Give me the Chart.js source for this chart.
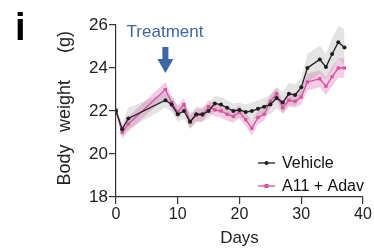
<!DOCTYPE html>
<html>
<head>
<meta charset="utf-8">
<script src="https://cdn.jsdelivr.net/npm/chart.js@4"></script>
<style>
  html, body { margin: 0; padding: 0; background: #fff; }
  #wrap { width: 374px; height: 252px; }
</style>
</head>
<body>
<div id="wrap"><canvas id="chart" width="374" height="252"></canvas></div>
<script>
// days measured
const days = [0, 1, 2, 8, 9, 10, 11, 12, 13, 14, 15, 16, 17, 18, 19, 20, 21, 22, 23, 24, 25, 26, 27, 28, 29, 30, 31, 33, 34, 35, 36, 37];
// mean body weight (g)
const vehicle = [22.0, 21.15, 21.65, 22.5, 22.3, 21.85, 22.0, 21.5, 21.85, 21.85, 22.0, 22.35, 22.3, 22.15, 22.0, 22.05, 21.95, 22.0, 22.1, 22.2, 22.3, 22.6, 22.4, 22.8, 22.75, 23.1, 24.0, 24.4, 24.05, 24.65, 25.2, 24.95];
const a11Adav = [22.05, 21.0, 21.4, 23.0, 22.4, 21.95, 22.3, 21.5, 21.8, 21.8, 22.2, 22.05, 22.0, 21.85, 21.75, 21.95, 21.6, 21.2, 21.7, 21.85, 22.45, 22.8, 22.15, 22.5, 22.45, 22.65, 23.35, 23.5, 23.15, 23.6, 24.0, 24.0];
// SEM (shaded bands)
const vehicleSem = [0.1, 0.3, 0.5, 0.35, 0.35, 0.35, 0.35, 0.35, 0.35, 0.35, 0.35, 0.35, 0.35, 0.35, 0.35, 0.35, 0.35, 0.4, 0.4, 0.4, 0.45, 0.5, 0.5, 0.5, 0.5, 0.45, 0.65, 0.65, 0.6, 0.75, 0.75, 0.85];
const a11AdavSem = [0.1, 0.3, 0.35, 0.35, 0.3, 0.3, 0.3, 0.3, 0.3, 0.3, 0.3, 0.3, 0.3, 0.3, 0.3, 0.3, 0.3, 0.35, 0.3, 0.3, 0.3, 0.3, 0.3, 0.3, 0.3, 0.35, 0.4, 0.4, 0.4, 0.45, 0.45, 0.45];
const seriesNames = ['Vehicle', 'A11 + Adav'];
const xTicks = [0, 10, 20, 30, 40];
const yTicks = [18, 20, 22, 24, 26];
const treatmentDay = 8;

const BLACK = '#1e1e1e';
const PINK = '#d9509f';
const FONT = 'Liberation Sans, Arial, sans-serif';

const pts = (vals) => days.map((d, i) => ({ x: d, y: vals[i] }));
const band = (vals, sem, sign) => days.map((d, i) => ({ x: d, y: vals[i] + sign * sem[i] }));

const bandSet = (data, fill, color) => ({
  data, fill, backgroundColor: color, borderWidth: 0, pointRadius: 0
});

const extras = {
  id: 'extras',
  afterDraw(chart) {
    const ctx = chart.ctx;
    const xs = chart.scales.x;
    ctx.save();
    // panel letter
    ctx.fillStyle = '#000';
    ctx.font = 'bold 38px ' + FONT;
    ctx.textBaseline = 'alphabetic';
    ctx.fillText('i', 15, 40);

    // y title, word by word
    ctx.font = '18px ' + FONT;
    ctx.fillStyle = '#222';
    ctx.textAlign = 'center';
    [['(g)', 42], ['weight', 106], ['Body', 165]].forEach(([w, yc]) => {
      ctx.save();
      ctx.translate(70, yc);
      ctx.rotate(-Math.PI / 2);
      ctx.fillText(w, 0, 0);
      ctx.restore();
    });

    // treatment marker
    const ax = xs.getPixelForValue(treatmentDay);
    ctx.fillStyle = '#3d66a8';
    ctx.font = '17px ' + FONT;
    ctx.fillText('Treatment', 165, 37);
    ctx.fillRect(ax - 3, 47, 6, 13);
    ctx.beginPath();
    ctx.moveTo(ax - 8, 59);
    ctx.lineTo(ax + 8, 59);
    ctx.lineTo(ax, 73);
    ctx.closePath();
    ctx.fill();

    // legend
    ctx.textAlign = 'left';
    ctx.textBaseline = 'middle';
    ctx.font = '16px ' + FONT;
    [[seriesNames[0], BLACK, 163, 'c'], [seriesNames[1], PINK, 186, 'r']].forEach(([t, c, y, s]) => {
      ctx.strokeStyle = c;
      ctx.fillStyle = c;
      ctx.lineWidth = 1.3;
      ctx.beginPath();
      ctx.moveTo(258, y);
      ctx.lineTo(275, y);
      ctx.stroke();
      if (s === 'c') {
        ctx.beginPath();
        ctx.arc(266.5, y, 2, 0, Math.PI * 2);
        ctx.fill();
      } else {
        ctx.fillRect(264.5, y - 2, 4, 4);
      }
      ctx.fillStyle = '#111';
      ctx.fillText(t, 282, y + 1);
    });
    ctx.restore();
  }
};

new Chart(document.getElementById('chart'), {
  type: 'line',
  data: {
    datasets: [
      bandSet(band(vehicle, vehicleSem, -1), false, 'rgba(0,0,0,0)'),
      bandSet(band(vehicle, vehicleSem, 1), '-1', 'rgba(120,120,120,0.2)'),
      bandSet(band(a11Adav, a11AdavSem, -1), false, 'rgba(0,0,0,0)'),
      bandSet(band(a11Adav, a11AdavSem, 1), '-1', 'rgba(215,90,170,0.3)'),
      {
        label: seriesNames[0], data: pts(vehicle), borderColor: BLACK, backgroundColor: BLACK,
        borderWidth: 1.3, pointRadius: 2, pointBorderWidth: 0, fill: false, tension: 0
      },
      {
        label: seriesNames[1], data: pts(a11Adav), borderColor: PINK, backgroundColor: PINK,
        borderWidth: 1.3, pointRadius: 2.3, pointStyle: 'rect', pointBorderWidth: 0, fill: false, tension: 0
      }
    ]
  },
  options: {
    responsive: false,
    animation: false,
    devicePixelRatio: 1,
    layout: { padding: { top: 25, right: 11, left: 0, bottom: 0 } },
    plugins: {
      legend: { display: false },
      tooltip: { enabled: false },
      filler: { drawTime: 'beforeDatasetsDraw' }
    },
    scales: {
      x: {
        type: 'linear', min: 0, max: 40,
        afterFit: (s) => { s.height = 55; },
        afterBuildTicks: (s) => { s.ticks = xTicks.map(v => ({ value: v })); },
        ticks: { font: { size: 16, family: FONT }, color: '#222', padding: 1, maxRotation: 0 },
        grid: { drawOnChartArea: false, tickLength: 7, color: '#333', lineWidth: 1.2 },
        border: { color: '#333', width: 1.2 },
        title: { display: true, text: 'Days', font: { size: 17, family: FONT }, color: '#222', padding: { top: 0, bottom: 3 } }
      },
      y: {
        min: 18, max: 26,
        afterFit: (s) => { s.width = 116; },
        afterBuildTicks: (s) => { s.ticks = yTicks.map(v => ({ value: v })); },
        ticks: { font: { size: 17, family: FONT }, color: '#222', padding: 1 },
        grid: { drawOnChartArea: false, tickLength: 7, color: '#333', lineWidth: 1.2 },
        border: { color: '#333', width: 1.2 }
      }
    }
  },
  plugins: [extras]
});
</script>
</body>
</html>
